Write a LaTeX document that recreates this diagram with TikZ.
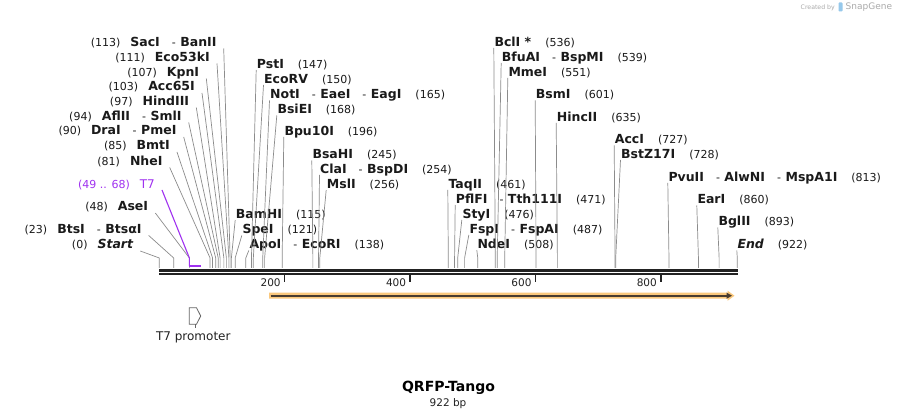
\documentclass[tikz,border=0pt]{standalone}
\usepackage{fontspec}
\setmainfont{DejaVu Sans}
\usetikzlibrary{calc}
\definecolor{linegray}{RGB}{140,140,140}
\definecolor{bbdark}{RGB}{34,34,34}
\definecolor{tsev}{RGB}{160,50,240}
\definecolor{featorange}{RGB}{250,200,125}
\definecolor{featdark}{RGB}{72,60,48}
\definecolor{numcol}{RGB}{26,26,26}
\definecolor{wmgray}{RGB}{170,170,170}
\definecolor{wmblue}{RGB}{150,200,235}
\newcommand\bpx[1]{159.3+0.6269*#1}
\newcommand\enz[1]{{\fontsize{12.5}{14}\selectfont\bfseries #1}}
\newcommand\dsep{\hspace{12pt}-\hspace{4.5pt}}
\newcommand\gapR{\hspace{14pt}}
\newcommand\gapL{\hspace{10pt}}
\newcommand\sitel[2]{\draw[site] ($(#1.base east)+(7,2)$) -- ({\bpx{#2}},258) -- ({\bpx{#2}},268);}
\newcommand\siter[2]{\draw[site] ($(#1.base west)+(-0.5,1.5)$) -- ({\bpx{#2}},258) -- ({\bpx{#2}},268);}
\tikzset{
  site/.style={draw=linegray, line width=0.7pt},
  lblL/.style={anchor=base east, inner sep=0pt, text=numcol, font=\fontsize{11}{13}\selectfont},
  lblR/.style={anchor=base west, inner sep=0pt, text=numcol, font=\fontsize{11}{13}\selectfont},
  bb/.style={draw=bbdark, line width=2.4pt},
  tick/.style={draw=bbdark, line width=1.5pt},
  ticklbl/.style={anchor=east, inner sep=0pt, text=bbdark, font=\fontsize{10.5}{12}\selectfont},
}
\begin{document}
\begin{tikzpicture}[x=1pt,y=-1pt]
\fill[white] (0,0) rectangle (897,419);
\useasboundingbox (0,0) rectangle (897,419);

% watermark
\node[anchor=east, inner sep=0pt, text=wmgray, font=\fontsize{6.2}{7}\selectfont] (wm1) at (835,7.5) {Created by};
\fill[wmblue, rounded corners=0.8pt] (838.5,2.5) rectangle (842.5,11.5);
\node[anchor=west, inner sep=0pt, text=wmgray, font=\fontsize{9}{10}\selectfont] (wm2) at (845.5,7.5) {SnapGene};

% left cluster labels
\node[lblL] (sacI) at (216.7,46.5) {(113)\gapL\enz{SacI}\dsep\enz{BanII}};
\node[lblL] (eco53) at (210,61.5) {(111)\gapL\enz{Eco53kI}};
\node[lblL] (kpnI) at (199.3,76.5) {(107)\gapL\enz{KpnI}};
\node[lblL] (acc65) at (195,91) {(103)\gapL\enz{Acc65I}};
\node[lblL] (hind) at (189.3,105.5) {(97)\gapL\enz{HindIII}};
\node[lblL] (aflII) at (181.7,120.5) {(94)\gapL\enz{AflII}\dsep\enz{SmlI}};
\node[lblL] (draI) at (176.7,135) {(90)\gapL\enz{DraI}\dsep\enz{PmeI}};
\node[lblL] (bmtI) at (170,150) {(85)\gapL\enz{BmtI}};
\node[lblL] (nheI) at (162.7,165.5) {(81)\gapL\enz{NheI}};
\node[lblL, text=tsev] (t7) at (155,189) {(49 .. 68)\gapL{\fontsize{12}{14}\selectfont T7}};
\node[lblL] (aseI) at (148.3,211) {(48)\gapL\enz{AseI}};
\node[lblL] (btsI) at (141.7,233.5) {(23)\gapL\enz{BtsI}\dsep\enz{BtsαI}};
\node[lblL] (start) at (133.3,249) {(0)\gapL\enz{\itshape Start}};

% right-side labels, first group
\node[lblR] (pstI) at (256.7,68.5) {\enz{PstI}\gapR(147)};
\node[lblR] (ecoRV) at (264,83.5) {\enz{EcoRV}\gapR(150)};
\node[lblR] (notI) at (270,99) {\enz{NotI}\dsep\enz{EaeI}\dsep\enz{EagI}\gapR(165)};
\node[lblR] (bsiEI) at (277.3,114) {\enz{BsiEI}\gapR(168)};
\node[lblR] (bpu10) at (284.3,135.5) {\enz{Bpu10I}\gapR(196)};
\node[lblR] (bsaHI) at (312.3,159) {\enz{BsaHI}\gapR(245)};
\node[lblR] (claI) at (320,173.5) {\enz{ClaI}\dsep\enz{BspDI}\gapR(254)};
\node[lblR] (mslI) at (326.7,188.5) {\enz{MslI}\gapR(256)};
\node[lblR] (bamHI) at (235.7,218.5) {\enz{BamHI}\gapR(115)};
\node[lblR] (speI) at (242.3,234) {\enz{SpeI}\gapR(121)};
\node[lblR] (apoI) at (249.3,249) {\enz{ApoI}\dsep\enz{EcoRI}\gapR(138)};

% right-side labels, second group
\node[lblR] (taqII) at (448.3,188.5) {\enz{TaqII}\gapR(461)};
\node[lblR] (pflFI) at (455.7,203.5) {\enz{PflFI}\dsep\enz{Tth111I}\gapR(471)};
\node[lblR] (styI) at (462.3,218.5) {\enz{StyI}\gapR(476)};
\node[lblR] (fspI) at (469.3,233.5) {\enz{FspI}\dsep\enz{FspAI}\gapR(487)};
\node[lblR] (ndeI) at (477.3,248.5) {\enz{NdeI}\gapR(508)};
\node[lblR] (bclI) at (494.3,46.5) {\enz{BclI *}\gapR(536)};
\node[lblR] (bfuAI) at (501.7,61.5) {\enz{BfuAI}\dsep\enz{BspMI}\gapR(539)};
\node[lblR] (mmeI) at (508.3,76.5) {\enz{MmeI}\gapR(551)};
\node[lblR] (bsmI) at (535.7,99) {\enz{BsmI}\gapR(601)};
\node[lblR] (hincII) at (556.7,121.5) {\enz{HincII}\gapR(635)};
\node[lblR] (accI) at (614.7,144) {\enz{AccI}\gapR(727)};
\node[lblR] (bstZ) at (621,158.5) {\enz{BstZ17I}\gapR(728)};
\node[lblR] (pvuII) at (668.3,181.3) {\enz{PvuII}\dsep\enz{AlwNI}\dsep\enz{MspA1I}\gapR(813)};
\node[lblR] (earI) at (697.3,204) {\enz{EarI}\gapR(860)};
\node[lblR] (bglII) at (718.3,226) {\enz{BglII}\gapR(893)};
\node[lblR] (endl) at (737.3,249) {\enz{\itshape End}\gapR(922)};

% site lines
\sitel{sacI}{113}
\sitel{eco53}{111}
\sitel{kpnI}{107}
\sitel{acc65}{103}
\sitel{hind}{97}
\sitel{aflII}{94}
\sitel{draI}{90}
\sitel{bmtI}{85}
\sitel{nheI}{81}
\sitel{aseI}{48}
\sitel{btsI}{23}
\sitel{start}{0}
\siter{pstI}{147}
\siter{ecoRV}{150}
\siter{notI}{165}
\siter{bsiEI}{168}
\siter{bpu10}{196}
\siter{bsaHI}{245}
\siter{claI}{254}
\siter{mslI}{256}
\siter{bamHI}{115}
\siter{speI}{121}
\siter{apoI}{138}
\siter{taqII}{461}
\siter{pflFI}{471}
\siter{styI}{476}
\siter{fspI}{487}
\siter{ndeI}{508}
\siter{bclI}{536}
\siter{bfuAI}{539}
\siter{mmeI}{551}
\siter{bsmI}{601}
\siter{hincII}{635}
\siter{accI}{727}
\siter{bstZ}{728}
\siter{pvuII}{813}
\siter{earI}{860}
\siter{bglII}{893}
\siter{endl}{922}

% T7 feature marker
\draw[draw=tsev, line width=1.1pt] ($(t7.base east)+(7,1)$) -- (189.4,258) -- (189.4,266);
\draw[draw=tsev, line width=2pt] (189.4,266) -- (201.1,266);

% backbone
\draw[bb] (159.3,270.5) -- (737.6,270.5);
\draw[bb] (159.3,274.2) -- (737.6,274.2);

% ticks
\foreach \t in {200,400,600,800}{
  \draw[tick] ({\bpx{\t}},275.5) -- ++(0,7);
  \node[ticklbl] at ({\bpx{\t}-3.8},282.4) {\t};
}

% feature arrow
\fill[featorange] (269,292.7) -- (727.5,292.7) -- (727.5,290.6) -- (734.5,295.7) -- (727.5,300.8) -- (727.5,298.7) -- (269,298.7) -- cycle;
\draw[draw=featdark, line width=1.9pt] (270.7,295.7) -- (728,295.7);
\fill[featdark] (726.5,292.6) -- (732,295.7) -- (726.5,298.8) -- cycle;

% T7 promoter
\draw[draw=black!60, line width=0.8pt, line join=miter] (189.3,307.7) -- (196.5,307.7) -- (200.7,316) -- (196.5,324.3) -- (189.3,324.3) -- cycle;
\draw[draw=black!60, line width=0.8pt] (195,324.3) -- (195,328.3);
\node[inner sep=0pt, text=bbdark, font=\fontsize{12}{14}\selectfont] (t7p) at (193.3,337.7) {T7 promoter};

% title
\node[inner sep=0pt, font=\fontsize{14}{16}\selectfont\bfseries] (title) at (448.5,388.3) {QRFP-Tango};
\node[inner sep=0pt, text=bbdark, font=\fontsize{10.5}{12}\selectfont] (len) at (448,403.3) {922 bp};
\end{tikzpicture}
\end{document}
